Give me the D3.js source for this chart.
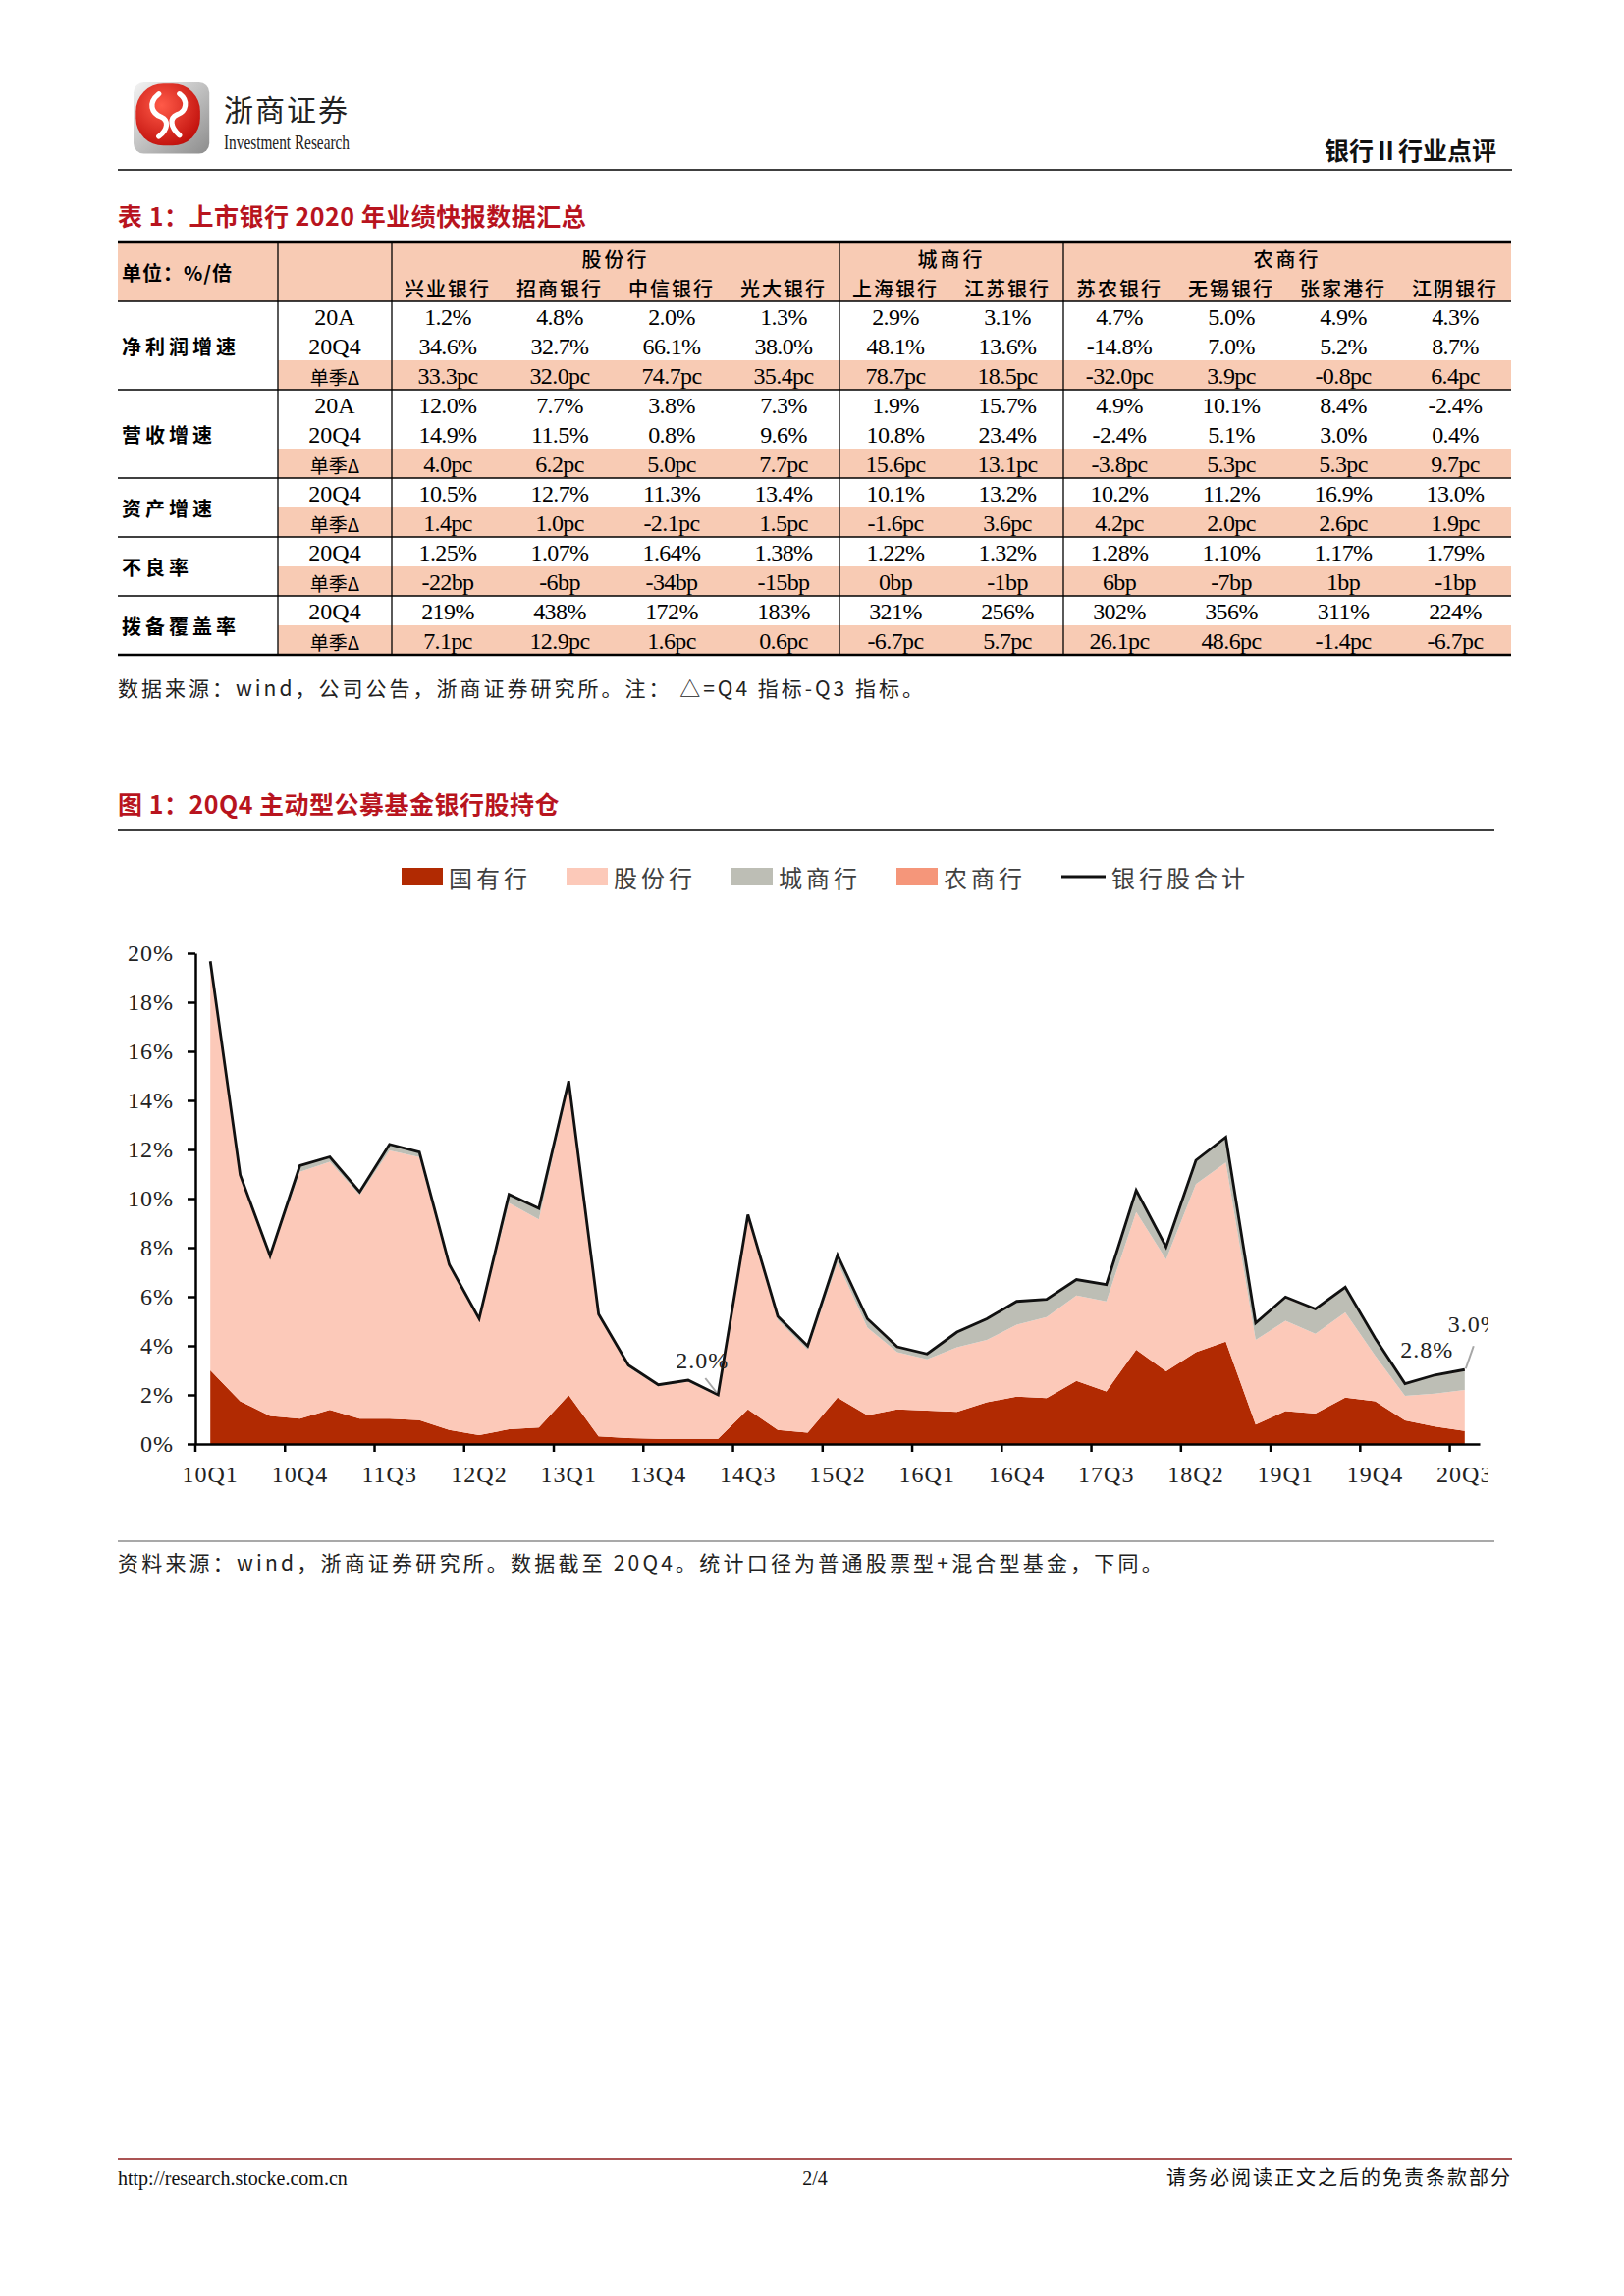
<!DOCTYPE html>
<html>
<head>
<meta charset="utf-8">
<script src="https://cdn.jsdelivr.net/npm/d3@7"></script>
<style>
  body { margin: 0; background: #fff; }
  svg { display: block; }
</style>
</head>
<body>
<svg id="page" width="1654" height="2339"></svg>
<script>
// ---- table data ----
var groupNames = ['股份行', '城商行', '农商行'];
var groupSizes = [4, 2, 4];
var banks = ['兴业银行', '招商银行', '中信银行', '光大银行', '上海银行', '江苏银行', '苏农银行', '无锡银行', '张家港行', '江阴银行'];
var metrics = ['净利润增速', '营收增速', '资产增速', '不良率', '拨备覆盖率'];
var metricRowLabels = [['20A', '20Q4', '单季Δ'], ['20A', '20Q4', '单季Δ'], ['20Q4', '单季Δ'], ['20Q4', '单季Δ'], ['20Q4', '单季Δ']];

var profit20A = ['1.2%', '4.8%', '2.0%', '1.3%', '2.9%', '3.1%', '4.7%', '5.0%', '4.9%', '4.3%'];
var profit20Q4 = ['34.6%', '32.7%', '66.1%', '38.0%', '48.1%', '13.6%', '-14.8%', '7.0%', '5.2%', '8.7%'];
var profitDelta = ['33.3pc', '32.0pc', '74.7pc', '35.4pc', '78.7pc', '18.5pc', '-32.0pc', '3.9pc', '-0.8pc', '6.4pc'];
var revenue20A = ['12.0%', '7.7%', '3.8%', '7.3%', '1.9%', '15.7%', '4.9%', '10.1%', '8.4%', '-2.4%'];
var revenue20Q4 = ['14.9%', '11.5%', '0.8%', '9.6%', '10.8%', '23.4%', '-2.4%', '5.1%', '3.0%', '0.4%'];
var revenueDelta = ['4.0pc', '6.2pc', '5.0pc', '7.7pc', '15.6pc', '13.1pc', '-3.8pc', '5.3pc', '5.3pc', '9.7pc'];
var asset20Q4 = ['10.5%', '12.7%', '11.3%', '13.4%', '10.1%', '13.2%', '10.2%', '11.2%', '16.9%', '13.0%'];
var assetDelta = ['1.4pc', '1.0pc', '-2.1pc', '1.5pc', '-1.6pc', '3.6pc', '4.2pc', '2.0pc', '2.6pc', '1.9pc'];
var npl20Q4 = ['1.25%', '1.07%', '1.64%', '1.38%', '1.22%', '1.32%', '1.28%', '1.10%', '1.17%', '1.79%'];
var nplDelta = ['-22bp', '-6bp', '-34bp', '-15bp', '0bp', '-1bp', '6bp', '-7bp', '1bp', '-1bp'];
var coverage20Q4 = ['219%', '438%', '172%', '183%', '321%', '256%', '302%', '356%', '311%', '224%'];
var coverageDelta = ['7.1pc', '12.9pc', '1.6pc', '0.6pc', '-6.7pc', '5.7pc', '26.1pc', '48.6pc', '-1.4pc', '-6.7pc'];

// ---- chart data (% of active fund holdings) ----
var quarters = ['10Q1', '10Q2', '10Q3', '10Q4', '11Q1', '11Q2', '11Q3', '11Q4', '12Q1', '12Q2', '12Q3',
  '12Q4', '13Q1', '13Q2', '13Q3', '13Q4', '14Q1', '14Q2', '14Q3', '14Q4', '15Q1', '15Q2', '15Q3',
  '15Q4', '16Q1', '16Q2', '16Q3', '16Q4', '17Q1', '17Q2', '17Q3', '17Q4', '18Q1', '18Q2', '18Q3',
  '18Q4', '19Q1', '19Q2', '19Q3', '19Q4', '20Q1', '20Q2', '20Q3'];
var seriesNames = ['国有行', '股份行', '城商行', '农商行'];
var totalName = '银行股合计';
var stateOwned = [3.00, 1.74, 1.14, 1.03, 1.39, 1.03, 1.03, 0.97, 0.57, 0.36, 0.60, 0.67, 1.99, 0.31, 0.24,
  0.21, 0.21, 0.21, 1.41, 0.57, 0.46, 1.89, 1.17, 1.41, 1.36, 1.31, 1.70, 1.93, 1.87, 2.57, 2.14,
  3.84, 2.96, 3.74, 4.17, 0.79, 1.34, 1.24, 1.89, 1.74, 0.96, 0.71, 0.53];
var jointStock = [16.57, 9.14, 6.45, 10.06, 10.11, 9.12, 10.93, 10.72, 6.64, 4.66, 9.22, 8.48, 12.65, 4.88,
  2.89, 2.14, 2.33, 1.74, 7.81, 4.48, 3.38, 5.51, 3.57, 2.33, 2.09, 2.63, 2.54, 2.93, 3.30, 3.48,
  3.67, 5.61, 4.56, 6.85, 7.30, 3.45, 3.68, 3.25, 3.47, 1.86, 1.00, 1.34, 1.67];
var cityBanks = [0.10, 0.08, 0.08, 0.25, 0.20, 0.12, 0.25, 0.20, 0.10, 0.08, 0.35, 0.45, 0.15, 0.10, 0.08,
  0.06, 0.06, 0.05, 0.12, 0.15, 0.15, 0.30, 0.36, 0.22, 0.22, 0.62, 0.86, 0.95, 0.70, 0.62, 0.65,
  0.85, 0.48, 0.93, 1.00, 0.66, 0.92, 0.97, 0.98, 0.68, 0.48, 0.72, 0.78];
var ruralBanks = [0, 0, 0, 0, 0, 0, 0, 0, 0, 0, 0, 0, 0, 0, 0, 0, 0, 0, 0, 0, 0, 0, 0, 0, 0, 0, 0, 0,
  0.02, 0.03, 0.03, 0.04, 0.03, 0.04, 0.03, 0.03, 0.05, 0.04, 0.05, 0.03, 0.02, 0.04, 0.05];
var totalShare = [19.67, 10.96, 7.67, 11.34, 11.70, 10.27, 12.21, 11.89, 7.31, 5.10, 10.17, 9.60, 14.79,
  5.29, 3.21, 2.41, 2.60, 2.00, 9.34, 5.20, 3.99, 7.70, 5.10, 3.96, 3.67, 4.56, 5.10, 5.81, 5.89,
  6.70, 6.49, 10.34, 8.03, 11.56, 12.50, 4.93, 5.99, 5.50, 6.39, 4.31, 2.46, 2.81, 3.03];
var labelled = ['14Q2', '20Q2', '20Q3'];

var CJK = '"Noto Sans CJK SC", sans-serif';
var SERIF = '"Liberation Serif", "Times New Roman", serif';
var RED = '#B8141E';
var PINK = '#F8CBB4';
var colors = d3.scaleOrdinal().domain(seriesNames).range(['#B12A02', '#FCC9B9', '#BDBEB5', '#F5967A']);

var svg = d3.select('#page');
svg.append('rect').attr('width', 1654).attr('height', 2339).attr('fill', '#fff');

/* ---------- page header ---------- */
var defs = svg.append('defs');
var gg = defs.append('linearGradient').attr('id', 'logoGrey').attr('x1', 0).attr('y1', 0).attr('x2', 1).attr('y2', 1);
gg.append('stop').attr('offset', '0%').attr('stop-color', '#f4f4f4');
gg.append('stop').attr('offset', '100%').attr('stop-color', '#8c8c8c');
var rg = defs.append('radialGradient').attr('id', 'logoRed').attr('cx', '40%').attr('cy', '35%').attr('r', '70%');
rg.append('stop').attr('offset', '0%').attr('stop-color', '#ff5a48');
rg.append('stop').attr('offset', '100%').attr('stop-color', '#c0100c');

var logo = svg.append('g').attr('transform', 'translate(136,84) scale(1.17)');
logo.append('rect').attr('x', 0).attr('y', 0).attr('width', 66).attr('height', 62).attr('rx', 9)
  .attr('fill', 'url(#logoGrey)');
logo.append('rect').attr('x', 2).attr('y', 1).attr('width', 56).attr('height', 54).attr('rx', 24)
  .attr('fill', 'url(#logoRed)');
logo.append('path').attr('d', 'M22,10 C12,18 16,27 24,30 C31,33 30,41 22,47')
  .attr('fill', 'none').attr('stroke', '#fff').attr('stroke-width', 4.5).attr('stroke-linecap', 'round');
logo.append('path').attr('d', 'M40,10 C48,16 46,25 38,28 C31,31 32,39 40,46')
  .attr('fill', 'none').attr('stroke', '#fff').attr('stroke-width', 4.5).attr('stroke-linecap', 'round');

svg.append('text').attr('x', 228).attr('y', 123).text('浙商证券')
  .style('font-family', CJK).style('font-size', '30px').style('letter-spacing', '2px').attr('fill', '#222');
svg.append('text').attr('x', 228).attr('y', 152).text('Investment Research')
  .attr('textLength', 128).attr('lengthAdjust', 'spacingAndGlyphs')
  .style('font-family', SERIF).style('font-size', '22px').attr('fill', '#222');
svg.append('text').attr('x', 1524).attr('y', 163).attr('text-anchor', 'end').text('银行Ⅱ行业点评')
  .style('font-family', CJK).style('font-size', '25px').style('font-weight', 'bold').attr('fill', '#111');
svg.append('line').attr('x1', 120).attr('x2', 1540).attr('y1', 173).attr('y2', 173)
  .attr('stroke', '#000').attr('stroke-width', 1.5);

/* ---------- table ---------- */
svg.append('text').attr('x', 120).attr('y', 230).text('表 1：上市银行 2020 年业绩快报数据汇总')
  .style('font-family', CJK).style('font-size', '25px').style('font-weight', 'bold').style('letter-spacing', '0.5px').attr('fill', RED);

var tTop = 247, rowH = 30, headH = 60;
var tLeft = 120, col1 = 283, col2 = 399, colW = 114;
var tRight = col2 + colW * banks.length;
var tableRows = [
  [profit20A, profit20Q4, profitDelta],
  [revenue20A, revenue20Q4, revenueDelta],
  [asset20Q4, assetDelta],
  [npl20Q4, nplDelta],
  [coverage20Q4, coverageDelta]
];
var table = svg.append('g');
table.append('rect').attr('x', tLeft).attr('y', tTop).attr('width', tRight - tLeft).attr('height', headH).attr('fill', PINK);

var bankX = function(k) { return col2 + colW * (k + 0.5); };
table.append('text').attr('x', 124).attr('y', tTop + 30).attr('dominant-baseline', 'central').text('单位：%/倍')
  .style('font-family', CJK).style('font-size', '20px').style('font-weight', 'bold').style('letter-spacing', '1px');

var start = 0;
var groupStart = groupSizes.map(function(n) { var s = start; start += n; return s; });
table.selectAll('text.grp').data(groupNames).enter().append('text').attr('class', 'grp')
  .attr('x', function(d, i) { return col2 + colW * (groupStart[i] + groupSizes[i] / 2); })
  .attr('y', tTop + 16).attr('dominant-baseline', 'central').attr('text-anchor', 'middle')
  .text(function(d) { return d; })
  .style('font-family', CJK).style('font-size', '20px').style('font-weight', 500).style('letter-spacing', '3px');
table.selectAll('text.bank').data(banks).enter().append('text').attr('class', 'bank')
  .attr('x', function(d, i) { return bankX(i); })
  .attr('y', tTop + 46).attr('dominant-baseline', 'central').attr('text-anchor', 'middle')
  .text(function(d) { return d; })
  .style('font-family', CJK).style('font-size', '20px').style('font-weight', 500).style('letter-spacing', '2px');

var yCur = tTop + headH;
var hLines = [{ y: tTop, w: 2.5 }, { y: yCur, w: 1.5 }];
tableRows.forEach(function(block, m) {
  var blockTop = yCur;
  block.forEach(function(vals, r) {
    var label = metricRowLabels[m][r];
    var isDelta = label === '单季Δ';
    if (isDelta) {
      table.append('rect').attr('x', col1).attr('y', yCur).attr('width', tRight - col1).attr('height', rowH).attr('fill', PINK);
    }
    table.append('text').attr('x', (col1 + col2) / 2).attr('y', yCur + rowH / 2 + 1)
      .attr('dominant-baseline', 'central').attr('text-anchor', 'middle').text(label)
      .style('font-family', isDelta ? CJK : SERIF).style('font-size', isDelta ? '19px' : '24px');
    table.selectAll(null).data(vals).enter().append('text')
      .attr('x', function(d, k) { return bankX(k); })
      .attr('y', yCur + rowH / 2 + 1)
      .attr('dominant-baseline', 'central').attr('text-anchor', 'middle')
      .text(function(d) { return d; })
      .style('font-family', SERIF).style('font-size', '24px').style('letter-spacing', '-0.6px');
    yCur += rowH;
  });
  table.append('text').attr('x', 124).attr('y', (blockTop + yCur) / 2).attr('dominant-baseline', 'central')
    .text(metrics[m])
    .style('font-family', CJK).style('font-size', '20px').style('font-weight', 'bold').style('letter-spacing', '4px');
  hLines.push({ y: yCur, w: m === tableRows.length - 1 ? 2.5 : 1.5 });
});
var vLines = [col1, col2, col2 + colW * 4, col2 + colW * 6];
table.selectAll('line.v').data(vLines).enter().append('line').attr('class', 'v')
  .attr('x1', function(d) { return d; }).attr('x2', function(d) { return d; })
  .attr('y1', tTop).attr('y2', yCur).attr('stroke', '#000').attr('stroke-width', 1.3);
table.selectAll('line.h').data(hLines).enter().append('line').attr('class', 'h')
  .attr('x1', tLeft).attr('x2', tRight)
  .attr('y1', function(d) { return d.y; }).attr('y2', function(d) { return d.y; })
  .attr('stroke', '#000').attr('stroke-width', function(d) { return d.w; });

svg.append('text').attr('x', 120).attr('y', 709).text('数据来源：wind，公司公告，浙商证券研究所。注： △=Q4 指标-Q3 指标。')
  .style('font-family', CJK).style('font-size', '21px').style('letter-spacing', '3px').attr('fill', '#222');

/* ---------- chart ---------- */
svg.append('text').attr('x', 120).attr('y', 829).text('图 1：20Q4 主动型公募基金银行股持仓')
  .style('font-family', CJK).style('font-size', '25px').style('font-weight', 'bold').style('letter-spacing', '0.5px').attr('fill', RED);
svg.append('line').attr('x1', 120).attr('x2', 1522).attr('y1', 846).attr('y2', 846)
  .attr('stroke', '#000').attr('stroke-width', 1.5);

// legend
var legend = svg.append('g');
var legItems = seriesNames.concat([totalName]);
var leg = legend.selectAll('g').data(legItems).enter().append('g')
  .attr('transform', function(d, i) { return 'translate(' + (409 + i * 168) + ',893)'; });
leg.each(function(d) {
  var g = d3.select(this);
  if (d === totalName) {
    g.append('line').attr('x1', 0).attr('x2', 45).attr('y1', 0).attr('y2', 0).attr('stroke', '#111').attr('stroke-width', 2.8);
    g.append('text').attr('x', 51).attr('y', 0).attr('dominant-baseline', 'central').text(d)
      .style('font-family', CJK).style('font-size', '24px').style('letter-spacing', '4px').attr('fill', '#404040');
  } else {
    g.append('rect').attr('x', 0).attr('y', -9).attr('width', 42).attr('height', 18).attr('fill', colors(d));
    g.append('text').attr('x', 48).attr('y', 0).attr('dominant-baseline', 'central').text(d)
      .style('font-family', CJK).style('font-size', '24px').style('letter-spacing', '4px').attr('fill', '#404040');
  }
});

var x = d3.scaleBand().domain(quarters).range([199, 1507]).padding(0);
var cx = function(q) { return x(q) + x.bandwidth() / 2; };
var y = d3.scaleLinear().domain([0, 20]).range([1471, 971]);

defs.append('clipPath').attr('id', 'chartClip').append('rect')
  .attr('x', 0).attr('y', 930).attr('width', 1515).attr('height', 640);
var chart = svg.append('g').attr('clip-path', 'url(#chartClip)');

var rows = quarters.map(function(q, i) {
  return { q: q, '国有行': stateOwned[i], '股份行': jointStock[i], '城商行': cityBanks[i], '农商行': ruralBanks[i] };
});
var stacked = d3.stack().keys(seriesNames)(rows);
var area = d3.area()
  .x(function(d) { return cx(d.data.q); })
  .y0(function(d) { return y(d[0]); })
  .y1(function(d) { return y(d[1]); });
chart.selectAll('path.layer').data(stacked).enter().append('path').attr('class', 'layer')
  .attr('d', area).attr('fill', function(d) { return colors(d.key); });

var line = d3.line()
  .x(function(d, i) { return cx(quarters[i]); })
  .y(function(d) { return y(d); });
chart.append('path').datum(totalShare).attr('d', line)
  .attr('fill', 'none').attr('stroke', '#111').attr('stroke-width', 2.8).attr('stroke-linejoin', 'miter');

// data labels: [text dx, text dy, leader x1, y1, x2, y2] relative to the point
var pct = d3.format('.1f');
var labelPos = { '14Q2': [-16, -27, -13, -17, -2, -3], '20Q2': [-8, -18, 0, 0, 0, 0], '20Q3': [10, -38, 9, -24, 1, -1] };
labelled.forEach(function(q) {
  var i = quarters.indexOf(q), px = cx(q), py = y(totalShare[i]), p = labelPos[q];
  if (p[2] || p[3]) {
    chart.append('line').attr('x1', px + p[2]).attr('y1', py + p[3]).attr('x2', px + p[4]).attr('y2', py + p[5])
      .attr('stroke', '#a6a6a6').attr('stroke-width', 2);
  }
  chart.append('text').attr('x', px + p[0]).attr('y', py + p[1]).attr('text-anchor', 'middle')
    .text(pct(totalShare[i]) + '%')
    .style('font-family', SERIF).style('font-size', '24px').style('letter-spacing', '1px').attr('fill', '#222');
});

// axes
var xAxis = chart.append('g').attr('transform', 'translate(0,' + y(0) + ')')
  .call(d3.axisBottom(x).tickValues(quarters.filter(function(q, i) { return i % 3 === 0; }))
    .tickSize(0).tickSizeOuter(0).tickPadding(22));
xAxis.select('.domain').attr('stroke', '#000').attr('stroke-width', 2.5);
xAxis.selectAll('text').style('font-family', SERIF).style('font-size', '24px').style('letter-spacing', '1px').attr('fill', '#222');
xAxis.selectAll('line.tk').data(quarters.filter(function(q, i) { return i % 3 === 0; })).enter()
  .append('line').attr('class', 'tk')
  .attr('x1', function(q) { return x(q); }).attr('x2', function(q) { return x(q); })
  .attr('y1', 0).attr('y2', 8).attr('stroke', '#000').attr('stroke-width', 2.5);

var yAxis = svg.append('g').attr('transform', 'translate(199,0)')
  .call(d3.axisLeft(y).ticks(10).tickSize(8).tickSizeOuter(0).tickPadding(14)
    .tickFormat(function(d) { return d + '%'; }));
yAxis.select('.domain').attr('stroke', '#000').attr('stroke-width', 2.5);
yAxis.selectAll('.tick line').attr('stroke', '#000').attr('stroke-width', 2.5);
yAxis.selectAll('text').style('font-family', SERIF).style('font-size', '24px').style('letter-spacing', '1px').attr('fill', '#222');

svg.append('line').attr('x1', 120).attr('x2', 1522).attr('y1', 1570).attr('y2', 1570)
  .attr('stroke', '#555').attr('stroke-width', 1.2);
svg.append('text').attr('x', 120).attr('y', 1600).text('资料来源：wind，浙商证券研究所。数据截至 20Q4。统计口径为普通股票型+混合型基金，下同。')
  .style('font-family', CJK).style('font-size', '21px').style('letter-spacing', '3.2px').attr('fill', '#222');

/* ---------- footer ---------- */
svg.append('line').attr('x1', 120).attr('x2', 1540).attr('y1', 2199).attr('y2', 2199)
  .attr('stroke', '#8E1B1B').attr('stroke-width', 1.5);
svg.append('text').attr('x', 120).attr('y', 2226).text('http://research.stocke.com.cn')
  .style('font-family', SERIF).style('font-size', '20px').attr('fill', '#111');
svg.append('text').attr('x', 830).attr('y', 2226).attr('text-anchor', 'middle').text('2/4')
  .style('font-family', SERIF).style('font-size', '20px').attr('fill', '#111');
svg.append('text').attr('x', 1540).attr('y', 2226).attr('text-anchor', 'end').text('请务必阅读正文之后的免责条款部分')
  .style('font-family', CJK).style('font-size', '20px').style('letter-spacing', '2px').attr('fill', '#111');
</script>
</body>
</html>
